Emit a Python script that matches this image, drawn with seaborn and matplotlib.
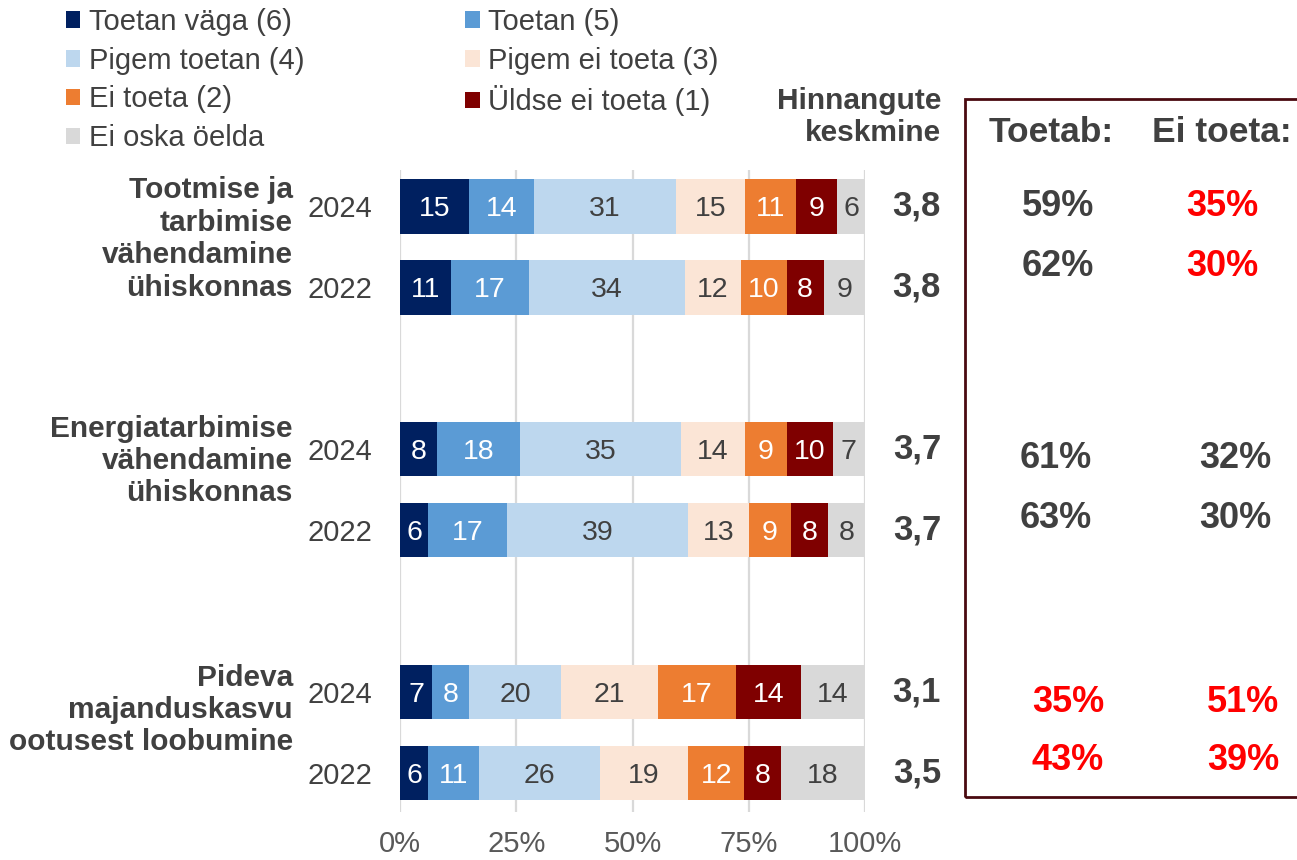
import pandas as pd
import matplotlib.pyplot as plt
import seaborn as sns
from matplotlib.patches import Patch, Rectangle
import matplotlib.transforms as mtransforms

# --- data ---
categories = ['Toetan väga (6)', 'Toetan (5)', 'Pigem toetan (4)', 'Pigem ei toeta (3)',
              'Ei toeta (2)', 'Üldse ei toeta (1)', 'Ei oska öelda']
colors = ['#002060', '#5B9BD5', '#BDD7EE', '#FBE5D6', '#ED7D31', '#7F0000', '#D9D9D9']
label_colors = ['white', 'white', '#404040', '#404040', 'white', 'white', '#404040']

groups = ['Tootmise ja\ntarbimise\nvähendamine\nühiskonnas',
          'Energiatarbimise\nvähendamine\nühiskonnas',
          'Pideva\nmajanduskasvu\nootusest loobumine']
years = ['2024', '2022', '2024', '2022', '2024', '2022']

toetan_vaga = [15, 11, 8, 6, 7, 6]
toetan = [14, 17, 18, 17, 8, 11]
pigem_toetan = [31, 34, 35, 39, 20, 26]
pigem_ei_toeta = [15, 12, 14, 13, 21, 19]
ei_toeta = [11, 10, 9, 9, 17, 12]
uldse_ei_toeta = [9, 8, 10, 8, 14, 8]
ei_oska = [6, 9, 7, 8, 14, 18]

keskmine = [3.8, 3.8, 3.7, 3.7, 3.1, 3.5]
toetab_kokku = [59, 62, 61, 63, 35, 43]
ei_toeta_kokku = [35, 30, 32, 30, 51, 39]
toetab_red = [False, False, False, False, True, True]
ei_toeta_red = [True, True, False, False, True, True]

series = [toetan_vaga, toetan, pigem_toetan, pigem_ei_toeta, ei_toeta, uldse_ei_toeta, ei_oska]

# --- layout ---
W, H = 1297, 860
fx = lambda px: px / W
fy = lambda py: 1 - py / H
bar_pos = [0, 1, 3, 4, 6, 7]
group_label_y = [239, 461, 710]
box_rows_y = [206, 266, 458, 518, 702, 761]
box_col1_x = [1058, 1058, 1056, 1056, 1068, 1068]
box_col2_x = [1222, 1222, 1235, 1235, 1243, 1243]
DARK = '#404040'
RED = '#FF0000'

rows = []
for i, p in enumerate(bar_pos):
    total = sum(s[i] for s in series)
    for cat, s in zip(categories, series):
        rows.append({'pos': p, 'cat': cat, 'val': s[i], 'pct': s[i] / total * 100})
df = pd.DataFrame(rows)

sns.set_style('white')
plt.rcParams['font.family'] = ['Liberation Sans', 'DejaVu Sans']

fig = plt.figure(figsize=(W / 100, H / 100), dpi=100)
ax = fig.add_axes([fx(400), fy(812), fx(865) - fx(400), fy(170) - fy(812)])

sns.histplot(data=df, y='pos', hue='cat', weights='pct', multiple='stack', discrete=True,
             shrink=0.67, hue_order=categories[::-1],
             palette=dict(zip(categories, colors)), alpha=1, linewidth=0,
             legend=False, ax=ax)

# segment labels
for i, p in enumerate(bar_pos):
    sub = df[df.pos == p]
    left = 0
    for k, (_, r) in enumerate(sub.iterrows()):
        ax.text(left + r.pct / 2, p, str(r.val), ha='center', va='center_baseline',
                fontsize=20.5, color=label_colors[k])
        left += r.pct

ax.set_xlim(0, 100)
ax.set_ylim(7.48, -0.45)
ax.set_xticks([0, 25, 50, 75, 100])
ax.set_xticklabels(['0%', '25%', '50%', '75%', '100%'])
ax.set_yticks(bar_pos)
ax.set_yticklabels(years)
ax.set_xlabel('')
ax.set_ylabel('')
ax.tick_params(axis='x', length=0, pad=13, labelsize=21, labelcolor='#595959')
ax.tick_params(axis='y', length=0, pad=20, labelsize=21, labelcolor=DARK)
ax.xaxis.grid(True, color='#D9D9D9', lw=1.6)
ax.yaxis.grid(False)
ax.set_axisbelow(True)
for s in ax.spines.values():
    s.set_visible(False)

# group labels
for g, y in zip(groups, group_label_y):
    fig.text(fx(293), fy(y), g, ha='right', va='center', fontsize=21.5,
             fontweight='bold', color=DARK)

# averages column
trans = mtransforms.blended_transform_factory(fig.transFigure, ax.transData)
fig.text(fx(941), fy(117), 'Hinnangute\nkeskmine', ha='right', va='center',
         fontsize=21.5, fontweight='bold', color=DARK)
for p, v in zip(bar_pos, keskmine):
    ax.text(fx(941), p, f'{v:.1f}'.replace('.', ','), transform=trans, ha='right',
            va='center', fontsize=25, fontweight='bold', color=DARK)

# box with support shares
fig.patches.append(Rectangle((fx(965), fy(797)), fx(1320) - fx(965), fy(99) - fy(797),
                             transform=fig.transFigure, fill=False,
                             edgecolor='#4A0A10', lw=2, clip_on=False))
fig.text(fx(1051), fy(133), 'Toetab:', ha='center', va='center', fontsize=25.5,
         fontweight='bold', color=DARK)
fig.text(fx(1222), fy(133), 'Ei toeta:', ha='center', va='center', fontsize=25.5,
         fontweight='bold', color=DARK)
for i in range(6):
    fig.text(fx(box_col1_x[i]), fy(box_rows_y[i]), f'{toetab_kokku[i]}%', ha='center',
             va='center', fontsize=26, fontweight='bold',
             color=RED if toetab_red[i] else DARK)
    fig.text(fx(box_col2_x[i]), fy(box_rows_y[i]), f'{ei_toeta_kokku[i]}%', ha='center',
             va='center', fontsize=26, fontweight='bold',
             color=RED if ei_toeta_red[i] else DARK)

# legend (row-major order in two columns)
handles = [Patch(facecolor=c, edgecolor='none') for c in colors]
order = [0, 2, 4, 6, 1, 3, 5]
fig.legend([handles[i] for i in order], [categories[i] for i in order], ncol=2,
           loc='upper left', bbox_to_anchor=(fx(60), fy(2)), frameon=False,
           fontsize=21, labelcolor=DARK, handlelength=0.5, handleheight=0.5,
           handletextpad=0.3, columnspacing=5.5, labelspacing=0.37,
           borderpad=0.2, borderaxespad=0)

fig.savefig('out.png', dpi=100)
